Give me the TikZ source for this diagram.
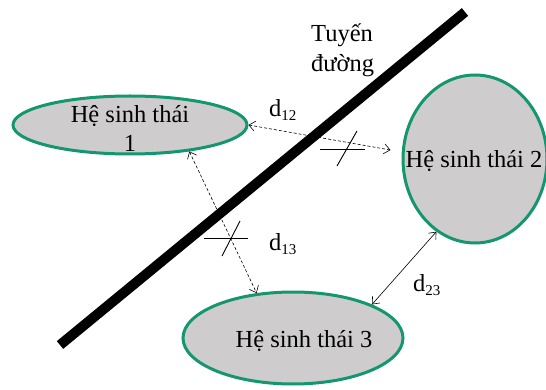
\documentclass[tikz,border=0pt]{standalone}
\usepackage{fontspec}
\setmainfont{Liberation Serif}
\usetikzlibrary{shapes.geometric,arrows.meta,calc}
\definecolor{ecogreen}{RGB}{20,150,110}
\definecolor{ecogray}{RGB}{206,204,204}
\begin{document}
\begin{tikzpicture}[x=1pt,y=-1pt,
  eco/.style={ellipse,draw=ecogreen,line width=3pt,fill=ecogray,inner sep=0pt},
  txt/.style={inner sep=0pt,font=\fontsize{24.5}{29}\selectfont},
  lbl/.style={inner sep=0pt,anchor=base west,font=\fontsize{24.5}{30}\selectfont},
  dist/.style={line width=0.6pt,{Straight Barb[length=6pt,width=10pt]}-{Straight Barb[length=6pt,width=10pt]}},
  distdash/.style={dist,dash pattern=on 3pt off 2pt},
  tick/.style={line width=0.9pt}]
\useasboundingbox (0,0) rectangle (546,390);
% road
\coordinate (r1) at (60,345);
\coordinate (r2) at (465,12);
\draw[line width=10pt] (r1) -- (r2);
\node[lbl,anchor=base west,align=left] (road) at (311,72) {Tuyến\\đường};
% ecosystems
\node[eco,minimum width=234pt,minimum height=58pt] (e1) at (130,125) {};
\node[eco,minimum width=144pt,minimum height=168pt] (e2) at (475,159) {};
\node[eco,minimum width=220pt,minimum height=92pt] (e3) at (293,338) {};
\node[txt,align=center] (t1) at (130,128) {Hệ sinh thái\\1};
\node[txt] (t2) at (474,161) {Hệ sinh thái 2};
\node[txt] (t3) at (304,341) {Hệ sinh thái 3};
% distances
\coordinate (p2) at ($(e2.west)+(-11,-9)$);
\draw[distdash] (e1.east) -- (p2);
\draw[distdash] (e1.-24) -- (e3.129);
\draw[dist] (e3.23) -- (e2.242);
% crossing marks
\coordinate (c1a) at (320,149); \coordinate (c1b) at (365,149);
\coordinate (c1c) at (337,166); \coordinate (c1d) at (357,131);
\draw[tick] (c1a) -- (c1b); \draw[tick] (c1c) -- (c1d);
\coordinate (c2a) at (204,238); \coordinate (c2b) at (248,238);
\coordinate (c2c) at (222,256); \coordinate (c2d) at (240,221);
\draw[tick] (c2a) -- (c2b); \draw[tick] (c2c) -- (c2d);
% labels
\node[lbl] (d12) at (269,117) {d\raisebox{-4pt}{\fontsize{15}{15}\selectfont 12}};
\node[lbl] (d13) at (269,251) {d\raisebox{-4pt}{\fontsize{15}{15}\selectfont 13}};
\node[lbl] (d23) at (413,291) {d\raisebox{-4pt}{\fontsize{15}{15}\selectfont 23}};
\end{tikzpicture}
\end{document}
